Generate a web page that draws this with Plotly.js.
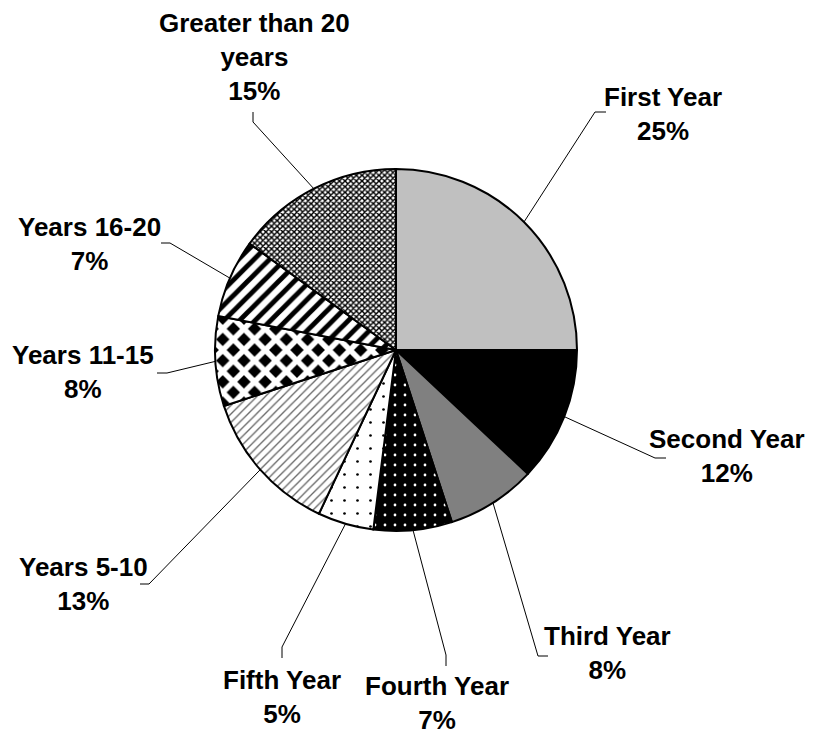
<!DOCTYPE html>
<html>
<head>
<meta charset="utf-8">
<script src="https://cdn.plot.ly/plotly-3.0.1.min.js"></script>
<style>html,body{margin:0;padding:0;background:#fff;}#chart{width:835px;height:734px;}</style>
</head>
<body>
<div id="chart"></div>
<script>
// ---- data ----
const categories = ["First Year", "Second Year", "Third Year", "Fourth Year", "Fifth Year",
                    "Years 5-10", "Years 11-15", "Years 16-20", "Greater than 20 years"];
const labelText = ["First Year", "Second Year", "Third Year", "Fourth Year", "Fifth Year",
                   "Years 5-10", "Years 11-15", "Years 16-20", "Greater than 20<br>years"];
const values = [25, 12, 8, 7, 5, 13, 8, 7, 15];

// ---- layout / style ----
const W = 835, H = 734;
const cx = 396, cy = 350, R = 181;
const fills = ["#C0C0C0", "#000000", "#808080", "#000000", "#FFFFFF", "#FFFFFF", "#000000", "#FFFFFF", "#FFFFFF"];
const patShape = ["", "", "", ".", ".", "/", "x", "/", "x"];
const patFg = ["#000", "#000", "#000", "#FFFFFF", "#000000", "#666666", "#FFFFFF", "#000000", "#000000"];
const patSize = [8, 8, 8, 10, 13, 6, 15, 11, 4];
const patSolidity = [0.3, 0.3, 0.3, 0.06, 0.035, 0.22, 0.6, 0.45, 0.6];
// label block centres and leader elbows/ends in pixel space
const labelPos = [[663,114],[727,456],[607,653],[437,703],[282,697],[83,584],[83,372],[89,244],[254,57]];
const elbows = [[595,112],[655,458],[538,656],[446,655],[282,647],[149,584],[167,373],[170,243],[253,122]];
const ends   = [[606,112],[666,458],[548,656],[446,666],[282,658],[140,584],[157,373],[161,243],[253,112]];

const total = values.reduce((a,b)=>a+b,0);
const px = x => x / W;
const py = y => 1 - y / H;

const trace = {
  type: "pie",
  labels: categories,
  values: values,
  sort: false,
  direction: "clockwise",
  rotation: 0,
  textinfo: "none",
  hoverinfo: "label+percent",
  domain: {x: [px(cx - R), px(cx + R)], y: [py(cy + R), py(cy - R)]},
  marker: {
    colors: fills,
    line: {color: "#000", width: 2},
    pattern: {
      shape: patShape,
      fgcolor: patFg,
      bgcolor: fills,
      size: patSize,
      solidity: patSolidity,
      fillmode: "replace"
    }
  },
  showlegend: false
};

const shapes = [];
const annotations = [];
let cum = 0;
values.forEach((v, i) => {
  const mid = (cum + v / 2) / total * 2 * Math.PI;
  cum += v;
  const ex = cx + R * Math.sin(mid), ey = cy - R * Math.cos(mid);
  shapes.push({
    type: "path", xref: "paper", yref: "paper",
    path: `M ${px(ex)} ${py(ey)} L ${px(elbows[i][0])} ${py(elbows[i][1])} L ${px(ends[i][0])} ${py(ends[i][1])}`,
    line: {color: "#000", width: 1}
  });
  const pct = Math.round(v / total * 100) + "%";
  annotations.push({
    xref: "paper", yref: "paper",
    x: px(labelPos[i][0]), y: py(labelPos[i][1]),
    xanchor: "center", yanchor: "middle",
    text: "<b>" + labelText[i] + "<br>" + pct + "</b>",
    showarrow: false, align: "center",
    font: {family: "Liberation Sans, Arial, sans-serif", size: 26, color: "#000"}
  });
});

const layout = {
  width: W, height: H,
  margin: {l: 0, r: 0, t: 0, b: 0},
  paper_bgcolor: "#fff", plot_bgcolor: "#fff",
  shapes: shapes,
  annotations: annotations
};

Plotly.newPlot("chart", [trace], layout, {displayModeBar: false, staticPlot: true});
</script>
</body>
</html>
